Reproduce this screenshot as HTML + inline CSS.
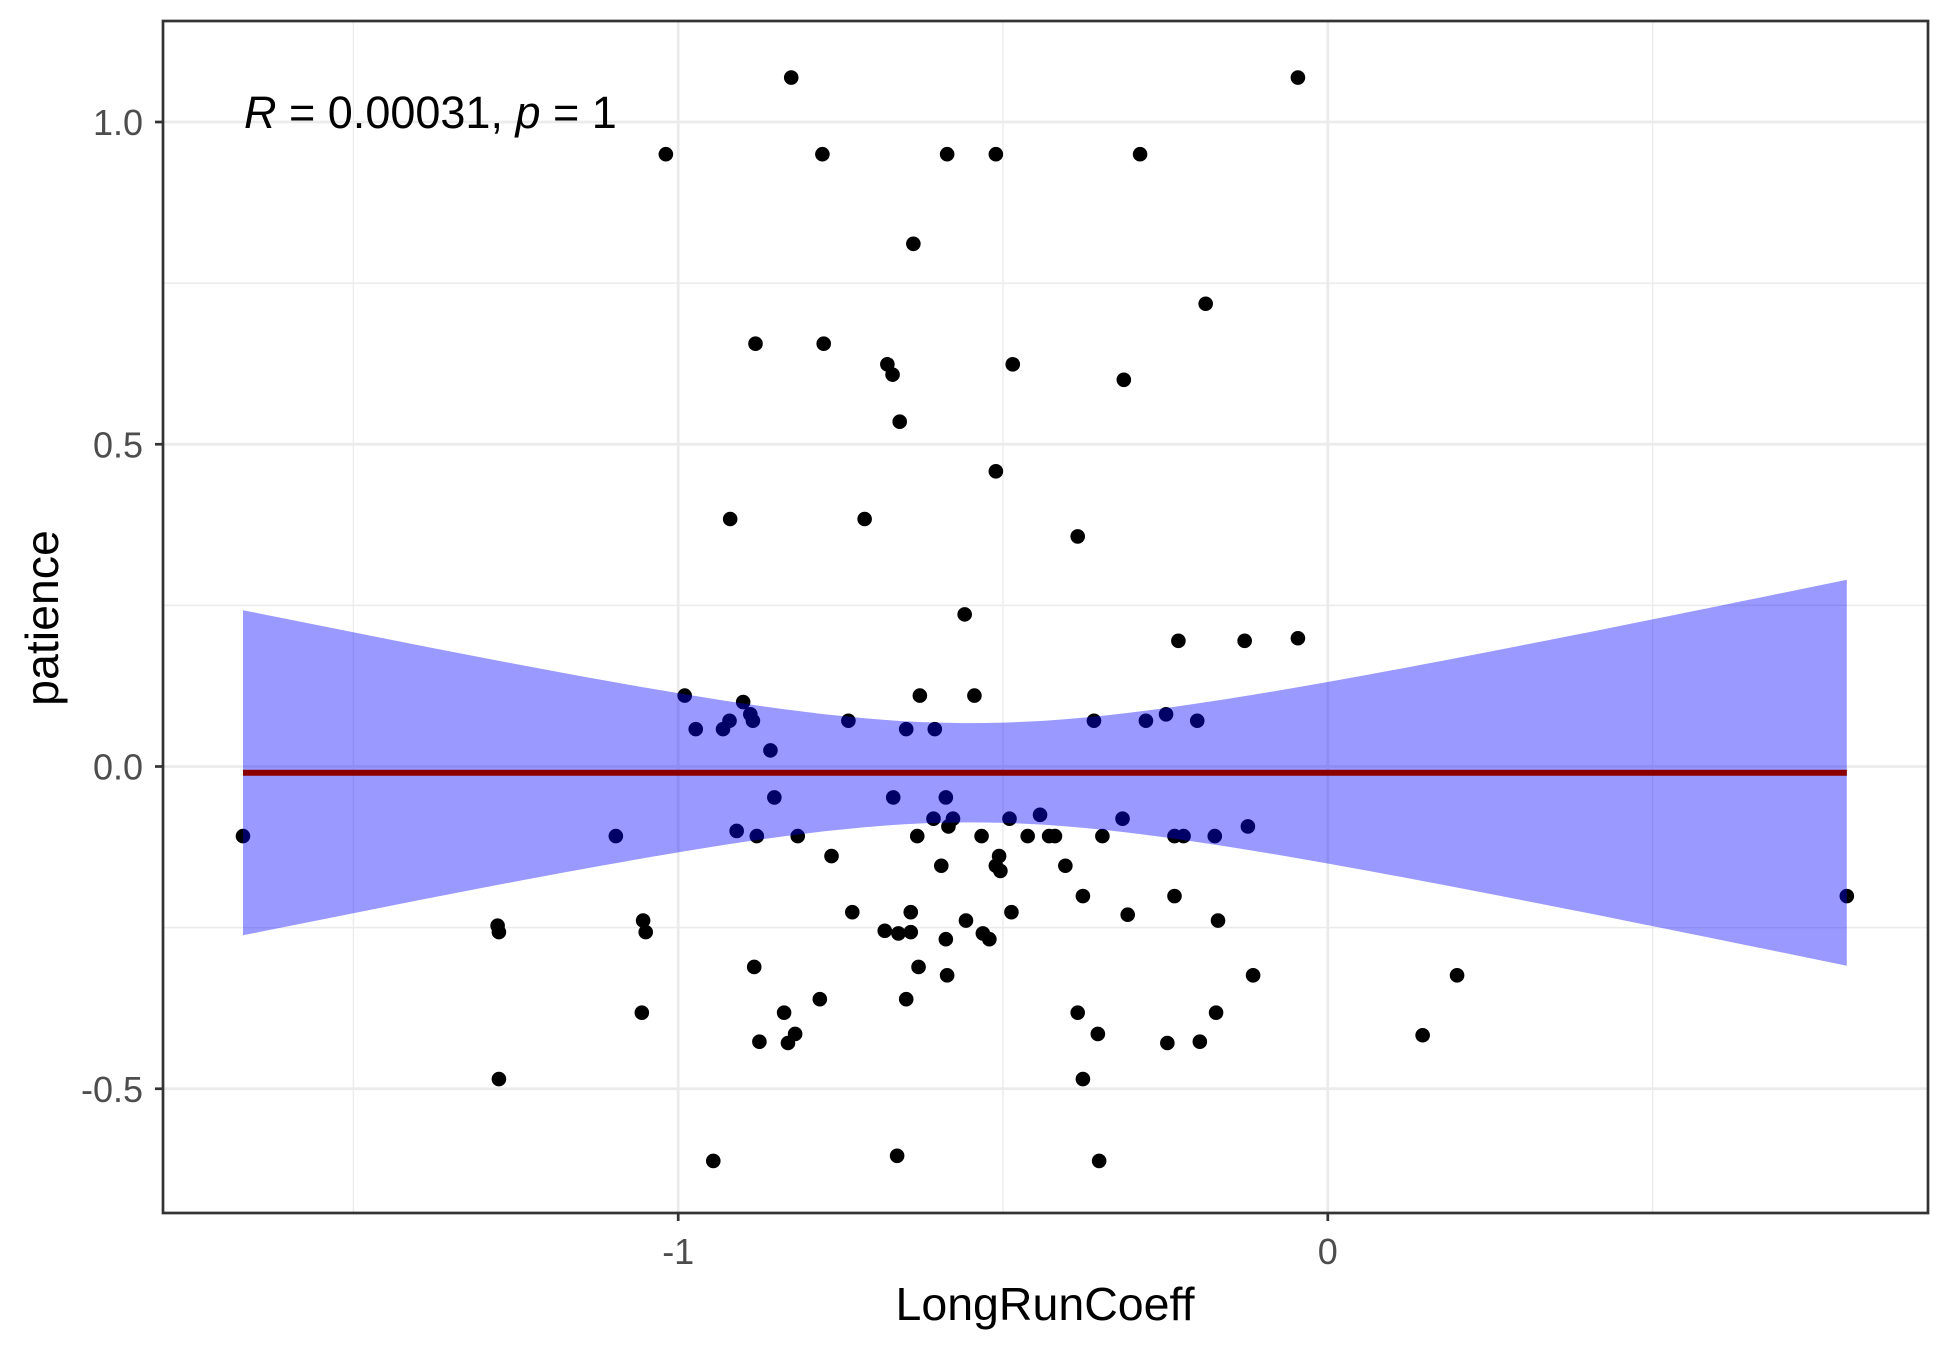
<!DOCTYPE html>
<html><head><meta charset="utf-8"><style>
html,body{margin:0;padding:0;background:#fff;}
svg{display:block;font-family:"Liberation Sans",sans-serif;}
</style></head><body>
<svg id="chart" width="1950" height="1350" viewBox="0 0 1950 1350" xmlns="http://www.w3.org/2000/svg">
<rect width="1950" height="1350" fill="#fff"/>
<g id="grid"></g>
<g id="points"></g>
<g id="ribbon"></g>
<g id="axes"></g>
<text x="244" y="128" font-size="45" fill="#000"><tspan font-style="italic">R</tspan> = 0.00031, <tspan font-style="italic">p</tspan> = 1</text>
<text x="1045" y="1320" font-size="46.5" text-anchor="middle" fill="#000">LongRunCoeff</text>
<text x="0" y="0" font-size="46.5" text-anchor="middle" fill="#000" transform="translate(58,618) rotate(-90)">patience</text>
</svg>
<script>
const xVals=[-1.670,-0.826,-0.046,-1.019,-0.778,-0.586,-0.511,-0.289,-0.638,-0.188,-0.881,-0.776,-0.678,-0.670,-0.485,-0.314,-0.659,-0.511,-0.920,-0.713,-0.385,-0.559,-0.230,-0.128,-0.046,-0.990,-0.628,-0.544,-0.900,-0.973,-0.931,-0.921,-0.889,-0.885,-0.738,-0.649,-0.605,-0.360,-0.280,-0.249,-0.201,-0.858,-0.852,-0.669,-0.588,-1.096,-0.910,-0.879,-0.816,-0.632,-0.607,-0.584,-0.577,-0.533,-0.490,-0.462,-0.443,-0.429,-0.420,-0.347,-0.316,-0.236,-0.222,-0.174,-0.123,-0.764,-0.595,-0.506,-0.511,-0.504,-0.404,-0.377,-0.236,0.799,-0.732,-0.642,-0.487,-0.308,-0.682,-0.661,-0.642,-0.588,-0.557,-0.531,-0.521,-0.169,-1.278,-1.276,-1.054,-1.050,-0.883,-0.630,-0.586,-0.115,0.199,-1.056,-0.837,-0.782,-0.649,-0.385,-0.172,-0.820,-0.875,-0.831,-0.354,-0.247,-0.197,0.146,-1.276,-0.377,-0.946,-0.663,-0.352];
const yVals=[-0.108,1.069,1.069,0.950,0.950,0.950,0.950,0.950,0.811,0.718,0.656,0.656,0.624,0.608,0.624,0.600,0.535,0.458,0.384,0.384,0.357,0.236,0.195,0.195,0.199,0.110,0.110,0.110,0.100,0.058,0.058,0.071,0.081,0.071,0.071,0.058,0.058,0.071,0.071,0.081,0.071,0.025,-0.048,-0.048,-0.048,-0.108,-0.100,-0.108,-0.108,-0.108,-0.081,-0.093,-0.081,-0.108,-0.081,-0.108,-0.075,-0.108,-0.108,-0.108,-0.081,-0.108,-0.108,-0.108,-0.093,-0.139,-0.154,-0.139,-0.154,-0.162,-0.154,-0.201,-0.201,-0.201,-0.226,-0.226,-0.226,-0.230,-0.255,-0.259,-0.257,-0.268,-0.239,-0.259,-0.268,-0.239,-0.247,-0.257,-0.239,-0.257,-0.311,-0.311,-0.324,-0.324,-0.324,-0.382,-0.382,-0.361,-0.361,-0.382,-0.382,-0.415,-0.427,-0.429,-0.415,-0.429,-0.427,-0.417,-0.485,-0.485,-0.612,-0.604,-0.612];
const xTicks=[-1,0];
const xTickLabels=["-1","0"];
const xMinor=[-1.5,-0.5,0.5];
const yTicks=[-0.5,0,0.5,1.0];
const yTickLabels=["-0.5","0.0","0.5","1.0"];
const yMinor=[-0.25,0.25,0.75];
const fitIntercept=-0.0097;
const fitSlope=0;
const ciCenterX=-0.55;
const ciMinHalf=0.077;
const ciCurv=0.046;

const P={l:163,r:1928,t:21,b:1213};
const X=v=>1327.8+649.6*v;
const Y=v=>766.5-644.5*v;
const NS="http://www.w3.org/2000/svg";
function mk(tag,attrs,parent){const e=document.createElementNS(NS,tag);for(const k in attrs)e.setAttribute(k,attrs[k]);parent.appendChild(e);return e;}
const grid=document.getElementById('grid');
mk('rect',{x:P.l,y:P.t,width:P.r-P.l,height:P.b-P.t,fill:'#fff'},grid);
xMinor.forEach(v=>{const e=mk('line',{x1:X(v),x2:X(v),y1:P.t,y2:P.b,stroke:'#ebebeb','stroke-width':1.4},grid);

});
yMinor.forEach(v=>{const e=mk('line',{x1:P.l,x2:P.r,y1:Y(v),y2:Y(v),stroke:'#ebebeb','stroke-width':1.4},grid);

});
xTicks.forEach(v=>{const e=mk('line',{x1:X(v),x2:X(v),y1:P.t,y2:P.b,stroke:'#ebebeb','stroke-width':2.8},grid);

});
yTicks.forEach(v=>{const e=mk('line',{x1:P.l,x2:P.r,y1:Y(v),y2:Y(v),stroke:'#ebebeb','stroke-width':2.8},grid);

});
const pts=document.getElementById('points');
xVals.forEach((xv,i)=>{const c=mk('circle',{cx:X(xv),cy:Y(yVals[i]),r:7.3,fill:'#000'},pts);

});
const rib=document.getElementById('ribbon');
const x0=Math.min(...xVals),x1=Math.max(...xVals);
let up=[],lo=[];
for(let i=0;i<=80;i++){const xv=x0+(x1-x0)*i/80;const f=fitIntercept+fitSlope*xv;const h=Math.sqrt(ciMinHalf*ciMinHalf+ciCurv*(xv-ciCenterX)*(xv-ciCenterX));
up.push(X(xv).toFixed(1)+','+Y(f+h).toFixed(1));lo.unshift(X(xv).toFixed(1)+','+Y(f-h).toFixed(1));}
const poly=mk('polygon',{points:up.concat(lo).join(' '),fill:'#0000ff','fill-opacity':0.4},rib);


const fl=mk('line',{x1:X(x0),x2:X(x1),y1:Y(fitIntercept+fitSlope*x0),y2:Y(fitIntercept+fitSlope*x1),stroke:'#8b0000','stroke-width':6},rib);


const ax=document.getElementById('axes');
const br=mk('rect',{x:P.l,y:P.t,width:P.r-P.l,height:P.b-P.t,fill:'none',stroke:'#333','stroke-width':2.7},ax);


xTicks.forEach((v,i)=>{const t=mk('line',{x1:X(v),x2:X(v),y1:P.b,y2:P.b+8,stroke:'#333','stroke-width':2.7},ax);


const l=mk('text',{x:X(v),y:P.b+51,'font-size':36,'text-anchor':'middle',fill:'#4d4d4d'},ax);l.textContent=xTickLabels[i];

});
yTicks.forEach((v,i)=>{const t=mk('line',{x1:P.l-8,x2:P.l,y1:Y(v),y2:Y(v),stroke:'#333','stroke-width':2.7},ax);


const l=mk('text',{x:P.l-20,y:Y(v)+13,'font-size':36,'text-anchor':'end',fill:'#4d4d4d'},ax);l.textContent=yTickLabels[i];

});
</script>
</body></html>
